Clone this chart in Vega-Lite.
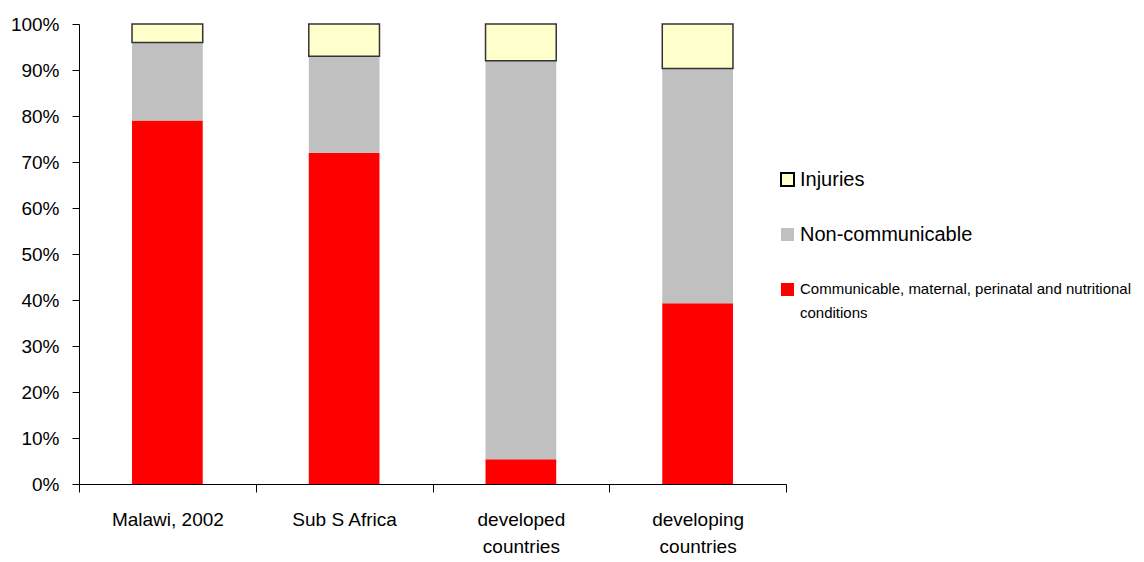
{
  "$schema": "https://vega.github.io/schema/vega-lite/v6.json",
  "width": 707,
  "height": 460,
  "autosize": "none",
  "padding": {"left": 79, "top": 24, "right": 358, "bottom": 78},
  "background": "white",
  "config": {
    "view": {"stroke": null},
    "font": "Liberation Sans",
    "axis": {"labelFont": "Liberation Sans", "labelColor": "#000", "domainColor": "#000", "tickColor": "#000", "grid": false, "title": null, "labelOverlap": false}
  },
  "data": {
    "values": [
      {"region": "Malawi, 2002", "cause": "Communicable, maternal, perinatal and nutritional conditions", "rank": 1, "share": 79},
      {"region": "Malawi, 2002", "cause": "Non-communicable", "rank": 2, "share": 17},
      {"region": "Malawi, 2002", "cause": "Injuries", "rank": 3, "share": 4},
      {"region": "Sub S Africa", "cause": "Communicable, maternal, perinatal and nutritional conditions", "rank": 1, "share": 72},
      {"region": "Sub S Africa", "cause": "Non-communicable", "rank": 2, "share": 21},
      {"region": "Sub S Africa", "cause": "Injuries", "rank": 3, "share": 7},
      {"region": "developed|countries", "cause": "Communicable, maternal, perinatal and nutritional conditions", "rank": 1, "share": 5.4},
      {"region": "developed|countries", "cause": "Non-communicable", "rank": 2, "share": 86.6},
      {"region": "developed|countries", "cause": "Injuries", "rank": 3, "share": 8},
      {"region": "developing|countries", "cause": "Communicable, maternal, perinatal and nutritional conditions", "rank": 1, "share": 39.3},
      {"region": "developing|countries", "cause": "Non-communicable", "rank": 2, "share": 51},
      {"region": "developing|countries", "cause": "Injuries", "rank": 3, "share": 9.7}
    ]
  },
  "mark": {"type": "bar", "strokeWidth": 1.5, "width": {"band": 0.4}},
  "encoding": {
    "x": {
      "field": "region",
      "type": "nominal",
      "sort": null,
      "scale": {"paddingInner": 0, "paddingOuter": 0},
      "axis": {
        "labelAngle": 0,
        "labelFontSize": 19,
        "labelExpr": "split(datum.label, '|')",
        "labelLineHeight": 27,
        "labelBaseline": "top",
        "tickBand": "extent",
        "tickSize": 8,
        "labelPadding": 18,
        "domainWidth": 1,
        "tickWidth": 1
      }
    },
    "y": {
      "field": "share",
      "type": "quantitative",
      "stack": "normalize",
      "scale": {"domain": [0, 1]},
      "axis": {
        "format": ".0%",
        "values": [0, 0.1, 0.2, 0.3, 0.4, 0.5, 0.6, 0.7, 0.8, 0.9, 1],
        "labelFontSize": 19,
        "tickSize": 7,
        "labelPadding": 13
      }
    },
    "order": {"field": "rank", "type": "quantitative"},
    "fill": {
      "field": "cause",
      "type": "nominal",
      "scale": {
        "domain": ["Injuries", "Non-communicable", "Communicable, maternal, perinatal and nutritional conditions"],
        "range": ["#FFFFCC", "#C0C0C0", "#FF0000"]
      },
      "legend": {
        "title": null,
        "orient": "none",
        "legendX": 701,
        "legendY": 148,
        "symbolType": "square",
        "symbolSize": 169,
        "symbolOpacity": 1,
        "symbolStrokeColor": {"expr": "datum.value == 'Injuries' ? '#000' : 'transparent'"},
        "symbolStrokeWidth": 2,
        "labelFont": "Liberation Sans",
        "labelFontSize": {"expr": "datum.value == 'Injuries' || datum.value == 'Non-communicable' ? 20 : 15"},
        "labelBaseline": {"expr": "datum.value == 'Injuries' || datum.value == 'Non-communicable' ? 'middle' : 'top'"},
        "labelColor": "#000",
        "labelLimit": 400,
        "labelOffset": 5,
        "rowPadding": 34,
        "labelExpr": "datum.label == 'Communicable, maternal, perinatal and nutritional conditions' ? ['Communicable, maternal, perinatal and nutritional', 'conditions'] : datum.label",
        "encode": {
          "labels": {
            "update": {
              "lineHeight": {"value": 24},
              "dy": {"signal": "datum.value == 'Communicable, maternal, perinatal and nutritional conditions' ? -8 : 0"}
            }
          }
        }
      }
    },
    "stroke": {
      "condition": {"test": "datum.cause == 'Injuries'", "value": "#333333"},
      "value": null
    }
  }
}
